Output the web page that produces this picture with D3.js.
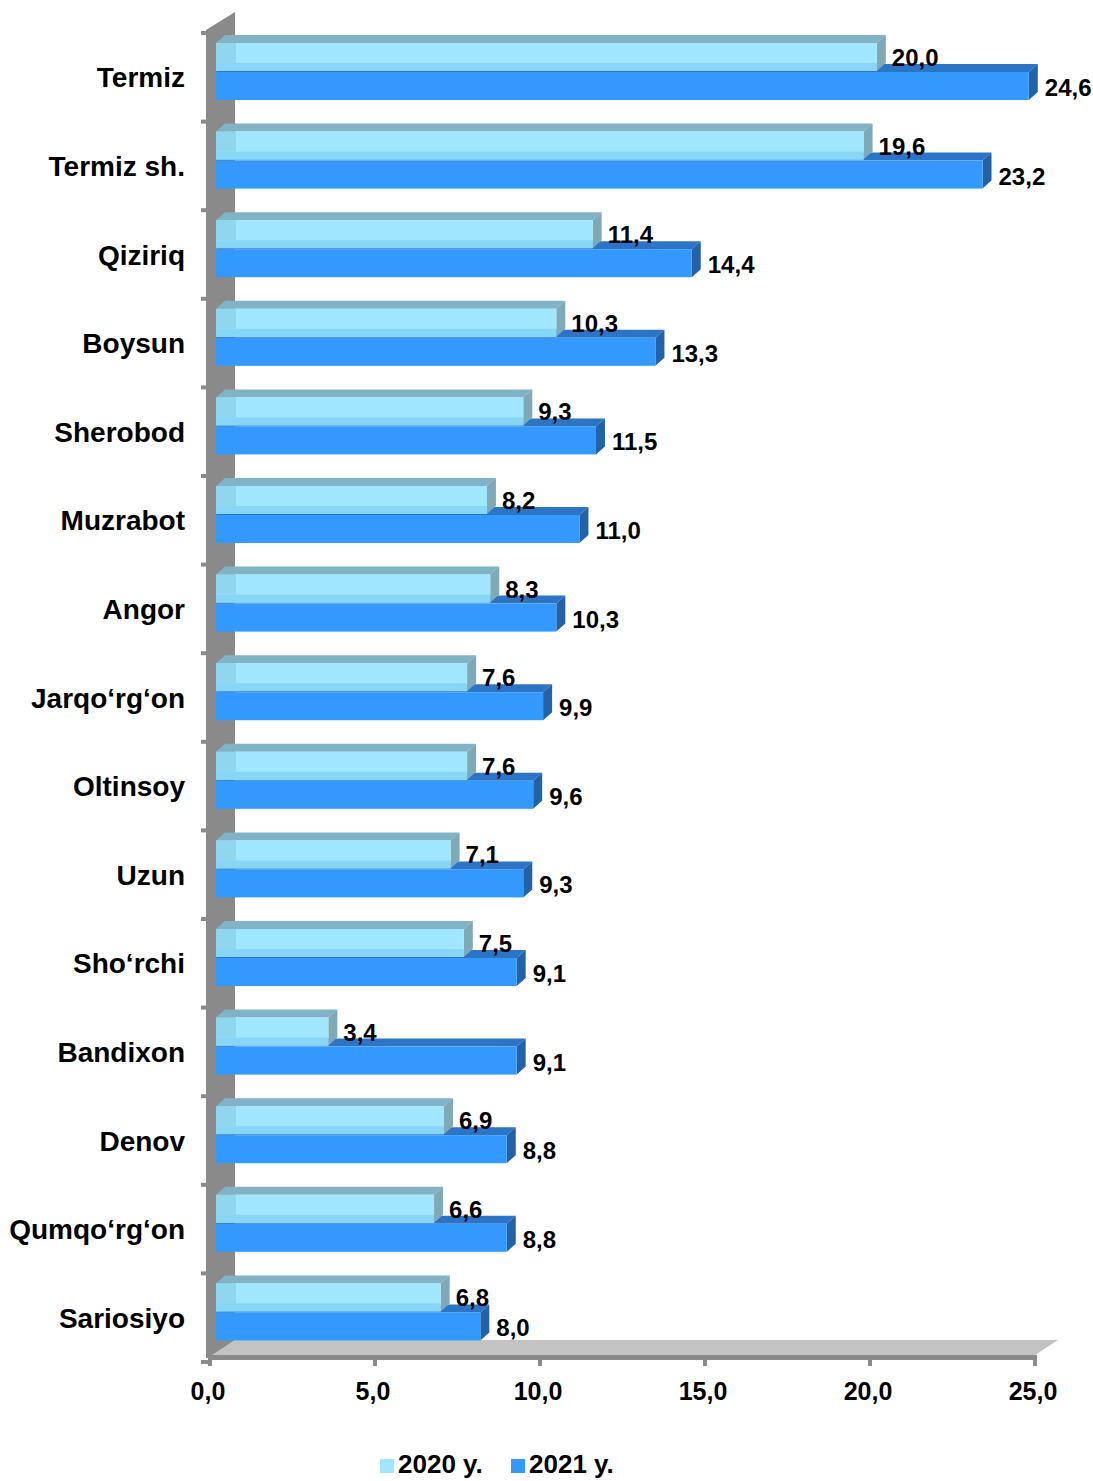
<!DOCTYPE html>
<html>
<head>
<meta charset="utf-8">
<script src="https://cdn.jsdelivr.net/npm/d3@7.9.0/dist/d3.min.js"></script>
<style>
  body { margin: 0; background: #fff; }
  svg text { font-family: "Liberation Sans", Arial, sans-serif; font-weight: bold; fill: #000; }
</style>
</head>
<body>
<svg id="chart" width="1093" height="1481"></svg>
<script>
const categories = ['Termiz', 'Termiz sh.', 'Qiziriq', 'Boysun', 'Sherobod', 'Muzrabot', 'Angor',
    'Jarqo‘rg‘on', 'Oltinsoy', 'Uzun', 'Sho‘rchi', 'Bandixon', 'Denov', 'Qumqo‘rg‘on', 'Sariosiyo'];
const values2020 = [20.0, 19.6, 11.4, 10.3, 9.3, 8.2, 8.3, 7.6, 7.6, 7.1, 7.5, 3.4, 6.9, 6.6, 6.8];
const values2021 = [24.6, 23.2, 14.4, 13.3, 11.5, 11.0, 10.3, 9.9, 9.6, 9.3, 9.1, 9.1, 8.8, 8.8, 8.0];
const xTicks = [0, 5, 10, 15, 20, 25];
const seriesNames = ['2020 y.', '2021 y.'];

const svg = d3.select('#chart');
const fmt = (v) => d3.format('.1f')(v).replace('.', ',');

// depth offset of the 3d boxes
const dx = 9, dy = 8;
const barH = 28;

const x = d3.scaleLinear().domain([0, 25]).range([216, 1042]);
const xAxisScale = d3.scaleLinear().domain([0, 25]).range([210, 1035]);
const y = d3.scaleBand().domain(categories).range([33, 1362]);

// wall
svg.append('polygon')
    .attr('points', [[206, 30], [235, 12], [235, 1340], [212, 1358], [206, 1358]].join(' '))
    .attr('fill', '#8a8a8a');
// wall ticks
y.domain().concat(['end']).forEach((c, i) => {
    const yy = 33 + i * y.bandwidth();
    svg.append('rect').attr('x', 201).attr('y', yy - 2).attr('width', 7).attr('height', 4).attr('fill', '#8a8a8a');
});

// floor
svg.append('polygon')
    .attr('points', [[235, 1340], [1058, 1340], [1035, 1355], [212, 1355]].join(' '))
    .attr('fill', '#c3c3c3');
svg.append('rect').attr('x', 208).attr('y', 1355).attr('width', 829).attr('height', 5).attr('fill', '#8a8a8a');
xTicks.forEach((t) => {
    svg.append('rect').attr('x', xAxisScale(t) - 2).attr('y', 1355).attr('width', 4).attr('height', 11).attr('fill', '#8a8a8a');
});

function drawBox(g, x0, x1, yTop, cols) {
    // top face
    g.append('polygon')
        .attr('points', [[x0, yTop], [x0 + dx, yTop - dy], [x1 + dx, yTop - dy], [x1, yTop]].join(' '))
        .attr('fill', cols.top);
    // side face
    g.append('polygon')
        .attr('points', [[x1, yTop], [x1 + dx, yTop - dy], [x1 + dx, yTop + barH - dy], [x1, yTop + barH]].join(' '))
        .attr('fill', cols.side);
    // front face
    g.append('rect').attr('x', x0).attr('y', yTop).attr('width', x1 - x0).attr('height', barH)
        .attr('fill', cols.front);
}

const bars = svg.append('g');
categories.forEach((c, i) => {
    const b = y(c);
    // 2021 first (lower bar), 2020 in front of its top face
    drawBox(bars, x(0), x(values2021[i]), b + 39, { top: '#2b74c6', side: '#2462a8', front: '#3399ff' });
    drawBox(bars, x(0), x(values2020[i]), b + 10, { top: '#80b3c6', side: '#7ea9b6', front: '#a0e6ff' });
    // see-through inner faces of the light bar
    bars.append('rect').attr('x', x(0)).attr('y', b + 10).attr('width', 20).attr('height', barH - dy)
        .attr('fill', '#8fd6ee');
    bars.append('rect').attr('x', x(0)).attr('y', b + 10 + barH - dy).attr('width', x(values2020[i]) - x(0)).attr('height', dy)
        .attr('fill', '#88d6f6');
});

// value labels
const labels = svg.append('g').style('font-size', '24px');
categories.forEach((c, i) => {
    const b = y(c);
    labels.append('text').attr('x', x(values2020[i]) + dx + 6).attr('y', b + 33).text(fmt(values2020[i]));
    labels.append('text').attr('x', x(values2021[i]) + dx + 7).attr('y', b + 63).text(fmt(values2021[i]));
});

// category labels
svg.append('g').selectAll('text').data(categories).join('text')
    .attr('x', 185)
    .attr('y', (d) => y(d) + y.bandwidth() / 2 + 10)
    .attr('text-anchor', 'end')
    .style('font-size', '28px')
    .text((d) => d);

// x axis labels
svg.append('g').selectAll('text').data(xTicks).join('text')
    .attr('x', (d) => xAxisScale(d) - 2)
    .attr('y', 1400)
    .attr('text-anchor', 'middle')
    .style('font-size', '25px')
    .text((d) => fmt(d));

// legend
const legend = svg.append('g');
const legendColors = ['#a0e6ff', '#3399ff'];
const legendX = [380, 511];
seriesNames.forEach((name, i) => {
    legend.append('rect').attr('x', legendX[i]).attr('y', 1459).attr('width', 14).attr('height', 14).attr('fill', legendColors[i]);
    legend.append('text').attr('x', legendX[i] + 18).attr('y', 1473).style('font-size', '26px').text(name);
});
</script>
</body>
</html>
